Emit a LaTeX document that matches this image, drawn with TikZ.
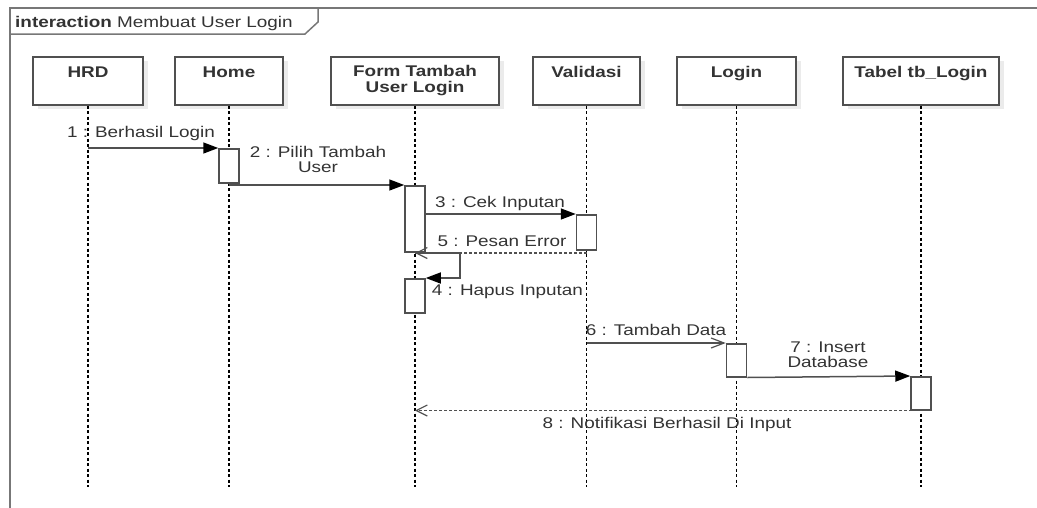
\documentclass[tikz,border=0pt]{standalone}
\usepackage{fontspec}
\setmainfont{Liberation Sans}[FakeStretch=1.22]
\usetikzlibrary{arrows.meta,shadows}

\definecolor{linegray}{HTML}{505050}
\definecolor{txtgray}{HTML}{333333}
\definecolor{framegray}{HTML}{777777}

\tikzset{
  head/.style={draw=linegray, line width=1.4pt, fill=white, minimum height=48pt, inner sep=0pt,
    general shadow={fill=black!8, shadow xshift=5pt, shadow yshift=-4pt}},
  headtext/.style={anchor=north, inner sep=0pt, align=center, text=txtgray,
    font=\fontsize{15.5}{15.5}\selectfont\bfseries},
  life/.style={black, line width=1.2pt, dash pattern=on 3pt off 2.5pt},
  act/.style={draw=linegray, fill=white, line width=1.5pt, minimum width=20pt, inner sep=0pt, anchor=north},
  msg/.style={draw=linegray, line width=1.5pt, -{Triangle[length=15pt,width=11pt,color=black]}},
  async/.style={draw=linegray, line width=1.5pt, -{Straight Barb[length=13pt,width=10pt,line width=1.2pt]}},
  reply/.style={draw=linegray, line width=1.3pt, dash pattern=on 3pt off 2pt,
    -{Straight Barb[length=11pt,width=11pt,line width=1.2pt,sep=0pt]}},
  lbl/.style={text=txtgray, inner sep=0pt, align=center, font=\fontsize{15.5}{15.5}\selectfont}
}

\begin{document}
\begin{tikzpicture}[x=1pt,y=-1pt]
  \useasboundingbox (0,0) rectangle (1037,507);
  \clip (0,0) rectangle (1037,507);

  % frame with its tab
  \draw[framegray, line width=1.8pt] (10,8) rectangle (1060,530);
  \draw[framegray, line width=1.5pt] (10,34) -- (305,34) -- (318,22) -- (318,8);
  \node[lbl, anchor=base west] (title) at (15,27) {\textbf{interaction} Membuat User Login};

  % lifeline heads
  \node[head, minimum width=110pt] (hrd) at (88,81) {};
  \node[headtext] (hrdTxt) at ([yshift=-10pt]hrd.north) {HRD};
  \node[head, minimum width=108pt] (home) at (229,81) {};
  \node[headtext] (homeTxt) at ([yshift=-10pt]home.north) {Home};
  \node[head, minimum width=168pt] (form) at (415,81) {};
  \node[headtext] (formTxt) at ([yshift=-9pt]form.north) {Form Tambah\\User Login};
  \node[head, minimum width=107pt] (validasi) at (586.5,81) {};
  \node[headtext] (validasiTxt) at ([yshift=-10pt]validasi.north) {Validasi};
  \node[head, minimum width=119pt] (login) at (736.5,81) {};
  \node[headtext] (loginTxt) at ([yshift=-10pt]login.north) {Login};
  \node[head, minimum width=156pt] (tabel) at (921,81) {};
  \node[headtext] (tabelTxt) at ([yshift=-10pt]tabel.north) {Tabel tb\_Login};

  % lifelines
  \draw[life] (hrd.south) -- (hrd.south |- 0,487);
  \draw[life] (home.south) -- (home.south |- 0,487);
  \draw[life] (form.south) -- (form.south |- 0,487);
  \draw[life] (validasi.south) -- (validasi.south |- 0,487);
  \draw[life] (login.south) -- (login.south |- 0,487);
  \draw[life] (tabel.south) -- (tabel.south |- 0,487);

  % activations
  \node[act, minimum height=34pt] (homeAct) at (home.south |- 0,148) {};
  \node[act, minimum height=66pt] (formAct) at (form.south |- 0,185) {};
  \node[act, minimum height=35pt] (valAct) at (validasi.south |- 0,214) {};
  \node[act, minimum height=34pt] (formAct2) at (form.south |- 0,278) {};
  \node[act, minimum height=33pt] (loginAct) at (login.south |- 0,343) {};
  \node[act, minimum height=33pt] (tabelAct) at (tabel.south |- 0,376) {};

  % messages
  \draw[msg] (hrd.south |- homeAct.north) -- (homeAct.north west);
  \node[lbl, anchor=base] (m1) at (141,137) {1 : Berhasil Login};

  \draw[msg] (homeAct.south |- formAct.north) -- (formAct.north west);
  \node[lbl, anchor=south] (m2) at (318,173) {2 : Pilih Tambah\\User};

  \draw[msg] (formAct.east |- valAct.north) -- (valAct.north west);
  \node[lbl, anchor=base] (m3) at (500,207) {3 : Cek Inputan};

  \draw[reply] (validasi.south |- 0,253) -- (formAct.south |- 0,253);
  \node[lbl, anchor=base] (m5) at (502,246) {5 : Pesan Error};

  \draw[msg] (formAct.south |- 0,253) -- (460,253) -- (460,278) -- (formAct2.north east);
  \node[lbl, anchor=base] (m4) at (507.5,295) {4 : Hapus Inputan};

  \draw[async] (validasi.south |- loginAct.north) -- (loginAct.north west);
  \node[lbl, anchor=base] (m6) at (656,335) {6 : Tambah Data};

  \draw[msg] (loginAct.south east) -- (tabelAct.north west);
  \node[lbl, anchor=south] (m7) at (828,368) {7 : Insert\\Database};

  \draw[reply] (tabelAct.south east) -- (form.south |- tabelAct.south);
  \node[lbl, anchor=base] (m8) at (667,428) {8 : Notifikasi Berhasil Di Input};
\end{tikzpicture}
\end{document}
